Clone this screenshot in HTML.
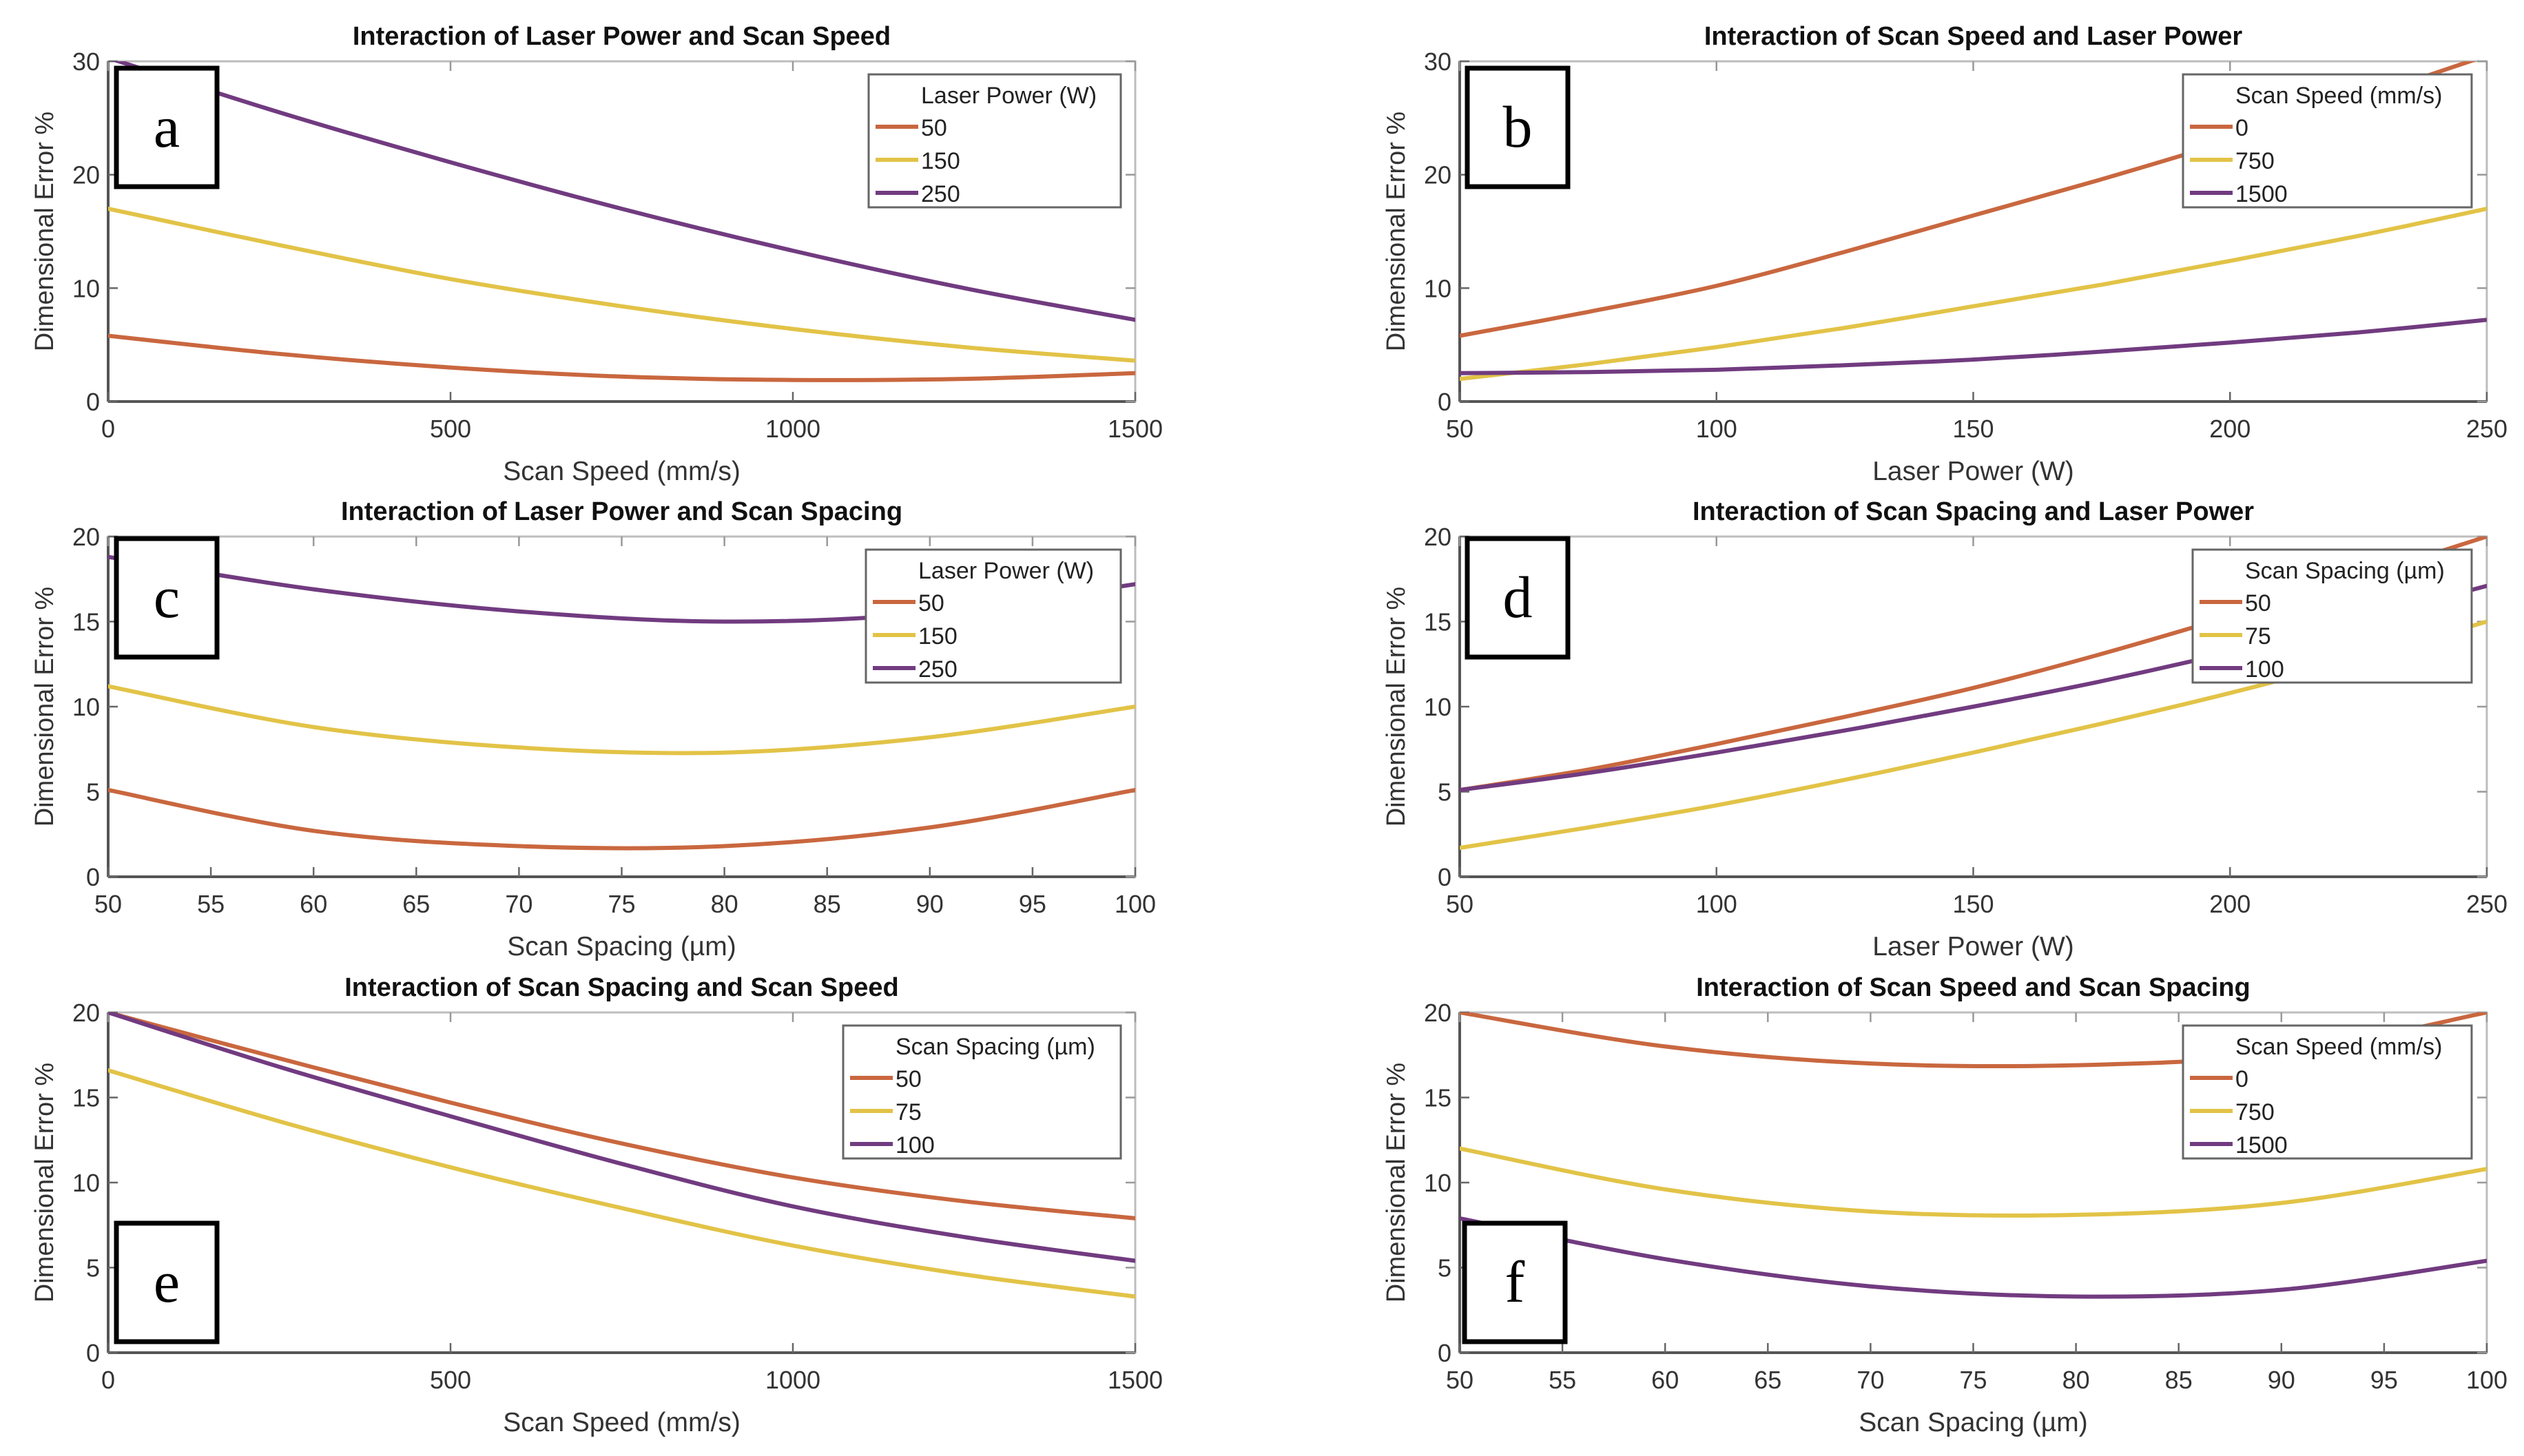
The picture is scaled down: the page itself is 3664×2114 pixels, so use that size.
<!DOCTYPE html>
<html><head><meta charset="utf-8"><style>
html,body{margin:0;padding:0;background:#fff;}
svg{display:block;}
text{font-family:"Liberation Sans",Arial,sans-serif;}
</style></head>
<body>
<svg id="fig" xmlns="http://www.w3.org/2000/svg" width="3664" height="2114" viewBox="0 0 3664 2114">
<rect x="0" y="0" width="3664" height="2114" fill="#fff"/>
</svg>
<script>
// ---- data ----
const speedX = [0,250,500,750,1000,1250,1500];
const powerX = [50,75,100,125,150,175,200,225,250];
const spacingX = [50,60,70,80,90,100];

const a_p50  = [5.8,4.2,3.0,2.2,1.9,2.0,2.5];
const a_p150 = [17.0,13.8,10.8,8.4,6.4,4.8,3.6];
const a_p250 = [30.3,25.5,21.1,17.0,13.3,10.0,7.2];

const b_s0    = [5.8,7.9,10.2,13.2,16.4,19.6,23.0,26.7,30.5];
const b_s750  = [2.0,3.3,4.8,6.5,8.4,10.3,12.4,14.6,17.0];
const b_s1500 = [2.5,2.6,2.8,3.2,3.7,4.4,5.2,6.1,7.2];

const c_p50  = [5.1,2.7,1.8,1.8,2.9,5.1];
const c_p150 = [11.2,8.8,7.6,7.3,8.2,10.0];
const c_p250 = [18.8,16.9,15.6,15.0,15.5,17.2];

const d_h50  = [5.1,6.3,7.8,9.4,11.1,13.1,15.3,17.6,20.0];
const d_h75  = [1.7,2.9,4.2,5.7,7.3,9.0,10.8,12.8,15.0];
const d_h100 = [5.1,6.1,7.3,8.6,10.0,11.5,13.2,15.1,17.1];

const e_h50  = [20.0,17.3,14.7,12.3,10.3,8.9,7.9];
const e_h75  = [16.6,13.6,10.9,8.5,6.3,4.6,3.3];
const e_h100 = [20.0,16.8,13.9,11.1,8.6,6.8,5.4];

const f_s0    = [20.0,18.0,17.0,16.9,17.6,20.0];
const f_s750  = [12.0,9.6,8.3,8.1,8.8,10.8];
const f_s1500 = [7.9,5.5,3.9,3.3,3.7,5.4];

const tickSpeed = [0,500,1000,1500];
const tickPower = [50,100,150,200,250];
const tickSpacing = [50,55,60,65,70,75,80,85,90,95,100];
const tick30 = [0,10,20,30];
const tick20 = [0,5,10,15,20];

const COLORS = ["#c9673f","#e2c347","#713b80"];
const NS = "http://www.w3.org/2000/svg";
const svg = document.getElementById('fig');

function el(tag, attrs, parent){
  const e = document.createElementNS(NS, tag);
  for (const k in attrs) e.setAttribute(k, attrs[k]);
  (parent||svg).appendChild(e);
  return e;
}

function smoothPath(pts){
  let d = "M"+pts[0][0].toFixed(1)+","+pts[0][1].toFixed(1);
  for (let i=0;i<pts.length-1;i++){
    const p0=pts[Math.max(0,i-1)], p1=pts[i], p2=pts[i+1], p3=pts[Math.min(pts.length-1,i+2)];
    const c1x=p1[0]+(p2[0]-p0[0])/6, c1y=p1[1]+(p2[1]-p0[1])/6;
    const c2x=p2[0]-(p3[0]-p1[0])/6, c2y=p2[1]-(p3[1]-p1[1])/6;
    d+=" C"+c1x.toFixed(1)+","+c1y.toFixed(1)+" "+c2x.toFixed(1)+","+c2y.toFixed(1)+" "+p2[0].toFixed(1)+","+p2[1].toFixed(1);
  }
  return d;
}

const panels = [
 {id:'a',L:157,R:1648,T:89,B:583,xd:[0,1500],yd:[0,30],xt:tickSpeed,yt:tick30,xs:speedX,
  series:[a_p50,a_p150,a_p250],names:['50','150','250'],lt:'Laser Power (W)',
  title:'Interaction of Laser Power and Scan Speed',xl:'Scan Speed (mm/s)',lgL:1261,lgR:1627,box:[169,99]},
 {id:'b',L:2119,R:3610,T:89,B:583,xd:[50,250],yd:[0,30],xt:tickPower,yt:tick30,xs:powerX,
  series:[b_s0,b_s750,b_s1500],names:['0','750','1500'],lt:'Scan Speed (mm/s)',
  title:'Interaction of Scan Speed and Laser Power',xl:'Laser Power (W)',lgL:3169,lgR:3588,box:[2130,99]},
 {id:'c',L:157,R:1648,T:779,B:1273,xd:[50,100],yd:[0,20],xt:tickSpacing,yt:tick20,xs:spacingX,
  series:[c_p50,c_p150,c_p250],names:['50','150','250'],lt:'Laser Power (W)',
  title:'Interaction of Laser Power and Scan Spacing',xl:'Scan Spacing (\u00b5m)',lgL:1257,lgR:1627,box:[169,782]},
 {id:'d',L:2119,R:3610,T:779,B:1273,xd:[50,250],yd:[0,20],xt:tickPower,yt:tick20,xs:powerX,
  series:[d_h50,d_h75,d_h100],names:['50','75','100'],lt:'Scan Spacing (\u00b5m)',
  title:'Interaction of Scan Spacing and Laser Power',xl:'Laser Power (W)',lgL:3183,lgR:3588,box:[2130,782]},
 {id:'e',L:157,R:1648,T:1470,B:1964,xd:[0,1500],yd:[0,20],xt:tickSpeed,yt:tick20,xs:speedX,
  series:[e_h50,e_h75,e_h100],names:['50','75','100'],lt:'Scan Spacing (\u00b5m)',
  title:'Interaction of Scan Spacing and Scan Speed',xl:'Scan Speed (mm/s)',lgL:1224,lgR:1627,box:[169,1776]},
 {id:'f',L:2119,R:3610,T:1470,B:1964,xd:[50,100],yd:[0,20],xt:tickSpacing,yt:tick20,xs:spacingX,
  series:[f_s0,f_s750,f_s1500],names:['0','750','1500'],lt:'Scan Speed (mm/s)',
  title:'Interaction of Scan Speed and Scan Spacing',xl:'Scan Spacing (\u00b5m)',lgL:3169,lgR:3588,box:[2126,1776]}
];

panels.forEach(p=>{
  const g = el('g',{});
  
  
  const sx = v => p.L + (v-p.xd[0])/(p.xd[1]-p.xd[0])*(p.R-p.L);
  const sy = v => p.B - (v-p.yd[0])/(p.yd[1]-p.yd[0])*(p.B-p.T);

  const clip = el('clipPath',{id:'clip-'+p.id},g);
  el('rect',{x:p.L,y:p.T,width:p.R-p.L,height:p.B-p.T},clip);

  const frame = el('rect',{x:p.L,y:p.T,width:p.R-p.L,height:p.B-p.T,fill:'none',stroke:'#bdbdbd','stroke-width':3},g);
  
  
  const xaxis = el('line',{x1:p.L,y1:p.B,x2:p.R,y2:p.B,stroke:'#555','stroke-width':4},g);
  
  
  const yaxis = el('line',{x1:p.L,y1:p.T,x2:p.L,y2:p.B,stroke:'#555','stroke-width':4},g);
  
  

  p.xt.forEach(v=>{
    const x=sx(v);
    el('line',{x1:x,y1:p.B,x2:x,y2:p.B-14,stroke:'#666','stroke-width':2.5},g);
    el('line',{x1:x,y1:p.T,x2:x,y2:p.T+14,stroke:'#999','stroke-width':2.5},g);
    const t = el('text',{x:x,y:p.B+52,'font-size':36,fill:'#333','text-anchor':'middle'},g);
    t.textContent = v;
    
    
  });
  p.yt.forEach(v=>{
    const y=sy(v);
    el('line',{x1:p.L,y1:y,x2:p.L+14,y2:y,stroke:'#666','stroke-width':2.5},g);
    el('line',{x1:p.R,y1:y,x2:p.R-14,y2:y,stroke:'#999','stroke-width':2.5},g);
    const t = el('text',{x:p.L-12,y:y+13,'font-size':36,fill:'#333','text-anchor':'end'},g);
    t.textContent = v;
    
    
  });

  p.series.forEach((vals,i)=>{
    const pts = p.xs.map((xv,j)=>[sx(xv),sy(vals[j])]);
    const path = el('path',{d:smoothPath(pts),fill:'none',stroke:COLORS[i],'stroke-width':6,'clip-path':'url(#clip-'+p.id+')','stroke-linecap':'round'},g);
    
    
  });

  const tt = el('text',{x:(p.L+p.R)/2,y:p.T-24,'font-size':38,'font-weight':'bold',fill:'#111','text-anchor':'middle'},g);
  tt.textContent = p.title;
  
  
  const xl = el('text',{x:(p.L+p.R)/2,y:p.B+114,'font-size':39,fill:'#333','text-anchor':'middle'},g);
  xl.textContent = p.xl;
  
  
  const yx = p.L-80, yy=(p.T+p.B)/2;
  const yl = el('text',{x:yx,y:yy,'font-size':38,fill:'#333','text-anchor':'middle',transform:'rotate(-90 '+yx+' '+yy+')'},g);
  yl.textContent = 'Dimensional Error %';
  
  

  const lg = el('g',{},g);
  
  
  const lt = p.T+19;
  el('rect',{x:p.lgL,y:lt,width:p.lgR-p.lgL,height:193,fill:'#fff',stroke:'#666','stroke-width':3},lg);
  const ltt = el('text',{x:p.lgL+76,y:lt+42,'font-size':34,fill:'#222'},lg);
  ltt.textContent = p.lt;
  
  
  p.names.forEach((n,i)=>{
    const cy = lt+76+i*48;
    el('line',{x1:p.lgL+10,y1:cy,x2:p.lgL+72,y2:cy,stroke:COLORS[i],'stroke-width':6},lg);
    const et = el('text',{x:p.lgL+76,y:cy+13,'font-size':34,fill:'#222'},lg);
    et.textContent = n;
    
    
  });

  const bx = el('g',{},g);
  
  
  el('rect',{x:p.box[0],y:p.box[1],width:146,height:172,fill:'#fff',stroke:'#000','stroke-width':7},bx);
  const lt2 = el('text',{x:p.box[0]+73,y:p.box[1]+114,'font-size':86,fill:'#000','text-anchor':'middle'},bx);
  lt2.setAttribute('style','font-family:"Liberation Serif",serif');
  lt2.textContent = p.id;
});
</script>
</body></html>
